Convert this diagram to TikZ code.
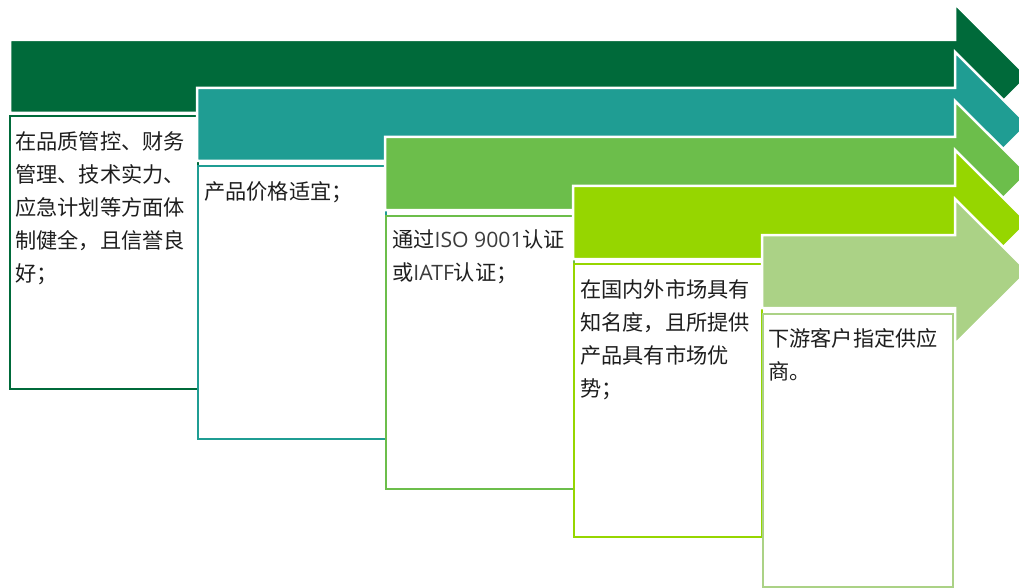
\documentclass[tikz,border=0pt]{standalone}
\usepackage{fontspec}
\setmainfont{Noto Sans CJK SC}
\newfontfamily\latinfont{Open Sans}
\definecolor{cA}{RGB}{0,106,58}
\definecolor{cB}{RGB}{31,157,147}
\definecolor{cC}{RGB}{108,190,75}
\definecolor{cD}{RGB}{150,214,0}
\definecolor{cE}{RGB}{171,210,134}
\definecolor{txt}{RGB}{30,30,30}
\definecolor{ltxt}{RGB}{60,60,60}
\tikzset{
  stagebox/.style={draw=#1, line width=2.2pt, fill=white, rectangle, anchor=north west,
    minimum width=188pt, minimum height=273pt, inner sep=0pt},
  stagetext/.style={anchor=north west, inner sep=0pt, align=left, text=txt,
    font=\fontsize{21.2pt}{33pt}\selectfont},
  stagearrow/.style={fill=#1, draw=white, line width=2.5pt, line join=miter}
}
\newcommand\stagearrowpath[3]{%
  \filldraw[stagearrow=#3] (#1,#2) -- (955,#2) -- (955,#2-36) -- (1028,#2+36.5)
    -- (955,#2+109) -- (955,#2+73) -- (#1,#2+73) -- cycle;}
\begin{document}
\begin{tikzpicture}[x=1pt,y=-1pt]
\clip (0,0) rectangle (1019,588);
\fill[white] (0,0) rectangle (1019,588);
% stage 1
\stagearrowpath{10}{40}{cA}
\node[stagebox=cA] (b1) at (9,115) {};
\node[stagetext] (t1) at (15,131) {在品质管控、财务\\管理、技术实力、\\应急计划等方面体\\制健全，且信誉良\\好；};
% stage 2
\stagearrowpath{197}{88}{cB}
\node[stagebox=cB] (b2) at (197,165) {};
\node[stagetext] (t2) at (204,181) {产品价格适宜；};
% stage 3
\stagearrowpath{385}{137}{cC}
\node[stagebox=cC] (b3) at (385,215) {};
\node[stagetext] (t3) at (392,230) {通过{\latinfont\color{ltxt}ISO 9001}认证\\或{\latinfont\color{ltxt}IATF}认证；};
% stage 4
\stagearrowpath{573}{186}{cD}
\node[stagebox=cD] (b4) at (573,263) {};
\node[stagetext] (t4) at (580,279) {在国内外市场具有\\知名度，且所提供\\产品具有市场优\\势；};
% stage 5
\stagearrowpath{762}{235}{cE}
\node[stagebox=cE, minimum width=190pt] (b5) at (762,313) {};
\node[stagetext] (t5) at (768,328) {下游客户指定供应\\商。};
\end{tikzpicture}
\end{document}
